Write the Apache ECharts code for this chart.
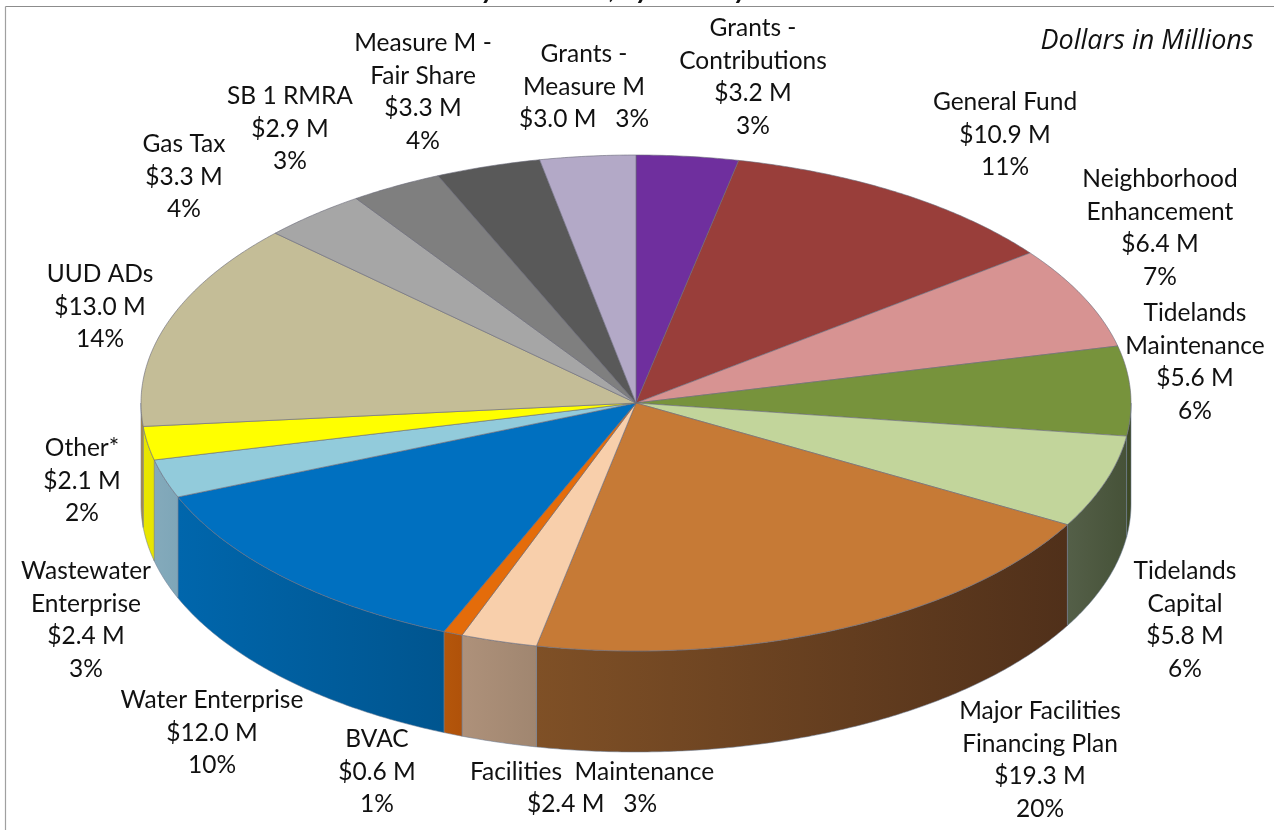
<!DOCTYPE html>
<html style="height: 100%;width:100%">
<head>
<meta charset="utf-8">
<style>html,body{margin:0;padding:0;background:#fff}</style>
</head>
<body style="height: 100%; width:100%">
<div id="chart-panel" style="height: 830px;width: 1274px"></div>
<script type="text/javascript" src="https://fastly.jsdelivr.net/npm/echarts@6/dist/echarts.min.js"></script>
<script type="text/javascript">
// funds, clockwise from 12 o'clock
var fundNames = ['Grants -\nContributions', 'General Fund', 'Neighborhood\nEnhancement', 'Tidelands\nMaintenance',
    'Tidelands\nCapital', 'Major Facilities\nFinancing Plan', 'Facilities  Maintenance', 'BVAC',
    'Water Enterprise', 'Wastewater\nEnterprise', 'Other*', 'UUD ADs', 'Gas Tax', 'SB 1 RMRA',
    'Measure M -\nFair Share', 'Grants -\nMeasure M'];
var fundValues = [3.2, 10.9, 6.4, 5.6, 5.8, 19.3, 2.4, 0.6, 12.0, 2.4, 2.1, 13.0, 3.3, 2.9, 3.3, 3.0];
var fundPercents = ['3%', '11%', '7%', '6%', '6%', '20%', '3%', '1%', '10%', '3%', '2%', '14%', '4%', '3%', '4%', '3%'];
// these two labels keep the amount and the percent on one line
var sameLine = ['Facilities  Maintenance', 'Grants -\nMeasure M'];

// styles
var topColors = ['#6f2f9e', '#993e3a', '#d79392', '#77933c', '#c2d59b', '#c67a36', '#f8cfab', '#e46c0a',
    '#0070c0', '#92cbdb', '#ffff00', '#c4bd97', '#a6a6a6', '#7f7f7f', '#595959', '#b3a9c7'];
// side wall colours: right end, left end
var sideColors = [null, null, null, ['#3c4725', '#3f4a26'], ['#465238', '#545f48'], ['#50301a', '#7f5026'],
    ['#a08670', '#ae917a'], ['#b0520a', '#b4560b'], ['#00558f', '#0066ac'], ['#7ea6b8', '#84aabb'],
    ['#e6e400', '#e9e600'], ['#b08a45', '#b08a45'], null, null, null, null];
// label centres in px
var labelCenters = [[753, 77], [1005, 135], [1160, 228], [1195, 362], [1185, 620], [1040, 760], [592, 788], [377, 772],
    [212, 733], [86, 620], [82, 481], [100, 307], [184, 177], [290, 129], [423, 92], [584, 87]];

var cx = 636, cy = 403, rx = 495, ry = 248, depth = 101;
var labelFont = 'Lato, "Open Sans", sans-serif';

var total = 0;
var slices = [];
for (var i = 0; i < fundValues.length; i++) {
    slices.push({ value: [total, total + fundValues[i]] });
    total += fundValues[i];
}

function toAngle(v) {
    return echarts.number.linearMap(v, [0, total], [0, 360]);
}
function rimPoint(deg, drop) {
    var t = deg * Math.PI / 180;
    return [cx + rx * Math.sin(t), cy - ry * Math.cos(t) + (drop || 0)];
}
function arc(a0, a1, drop) {
    var pts = [];
    var n = Math.max(2, Math.ceil((a1 - a0) * 2));
    for (var k = 0; k <= n; k++) {
        pts.push(rimPoint(a0 + (a1 - a0) * k / n, drop));
    }
    return pts;
}

function renderSlice(params, api) {
    var idx = params.dataIndex;
    var a0 = toAngle(api.value(0));
    var a1 = toAngle(api.value(1));
    var children = [];

    // side wall, only the front half shows
    var s0 = Math.max(a0, 90);
    var s1 = Math.min(a1, 270);
    if (s1 > s0 && sideColors[idx]) {
        var upper = arc(s0, s1, 0);
        var lower = arc(s0, s1, depth).reverse();
        var xr = upper[0][0];
        var xl = upper[upper.length - 1][0];
        children.push({
            type: 'polygon',
            shape: { points: upper.concat(lower) },
            style: {
                fill: new echarts.graphic.LinearGradient(xr, 0, xl, 0, [
                    { offset: 0, color: sideColors[idx][0] },
                    { offset: 1, color: sideColors[idx][1] }
                ], true),
                stroke: 'rgba(110,125,150,0.55)',
                lineWidth: 1
            }
        });
    }

    // top face
    children.push({
        type: 'polygon',
        shape: { points: [[cx, cy]].concat(arc(a0, a1, 0)) },
        style: { fill: topColors[idx], stroke: 'rgba(105,105,120,0.6)', lineWidth: 1 }
    });

    // label
    var name = fundNames[idx];
    var money = '$' + fundValues[idx].toFixed(1) + ' M';
    var glue = sameLine.indexOf(name) >= 0 ? '   ' : '\n';
    children.push({
        type: 'text',
        style: {
            x: labelCenters[idx][0],
            y: labelCenters[idx][1],
            text: name + '\n' + money + glue + fundPercents[idx],
            align: 'center',
            verticalAlign: 'middle',
            fontFamily: labelFont,
            fontSize: 24.5,
            lineHeight: 32.5,
            fill: '#111'
        }
    });
    return { type: 'group', children: children };
}

var myChart = echarts.init(document.getElementById('chart-panel'));
var option = {
    backgroundColor: '#fff',
    animation: false,
    graphic: [
        // title is cut off by the top of the picture, only descenders show
        { type: 'text', style: { x: 566, y: 3, text: 'Summary 2019-20, by Activity', align: 'center', verticalAlign: 'bottom',
            fontFamily: labelFont, fontSize: 28, fontStyle: 'italic', fontWeight: 'bold', fill: '#111' } },
        { type: 'rect', shape: { x: 0, y: 5.5, width: 1274, height: 3 }, style: { fill: '#fff' } },
        { type: 'line', shape: { x1: 5.5, y1: 6.5, x2: 1274, y2: 6.5 }, style: { stroke: '#8c8c8c', lineWidth: 1.2 } },
        { type: 'line', shape: { x1: 5.5, y1: 6.5, x2: 5.5, y2: 830 }, style: { stroke: '#a0a0a0', lineWidth: 1.2 } },
        { type: 'text', style: { x: 1147, y: 41, text: 'Dollars in Millions', align: 'center', verticalAlign: 'middle',
            fontFamily: '"Open Sans", sans-serif', fontSize: 27, fontStyle: 'italic', fill: '#111' } }
    ],
    series: [{
        type: 'custom',
        coordinateSystem: 'none',
        silent: true,
        renderItem: renderSlice,
        data: slices
    }]
};
myChart.setOption(option);
</script>
</body>
</html>
